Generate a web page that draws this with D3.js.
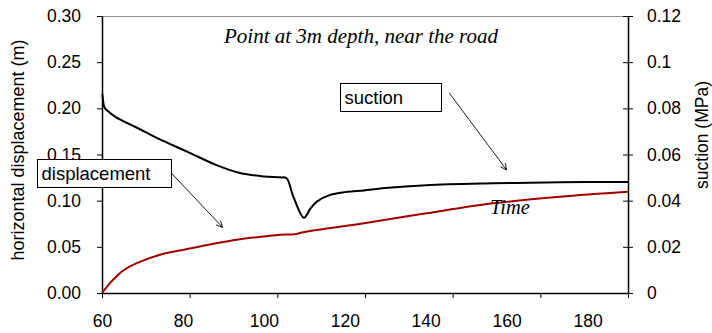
<!DOCTYPE html>
<html>
<head>
<meta charset="utf-8">
<script src="https://cdn.jsdelivr.net/npm/d3@7"></script>
<style>
  body { margin: 0; background: #fff; }
  svg { display: block; }
  text { font-family: "Liberation Sans", Arial, sans-serif; }
</style>
</head>
<body>
<div id="chart"></div>
<script>
'use strict';

// time axis labels and value ticks
const timeLabels = [60, 80, 100, 120, 140, 160, 180];
const leftTicks = [0, 0.05, 0.10, 0.15, 0.20, 0.25, 0.30];
const rightTicks = [0, 0.02, 0.04, 0.06, 0.08, 0.1, 0.12];

// suction (MPa, right axis)
const suctionTime = [60.1, 60.3, 60.6, 61.8, 63.3, 65.1, 68.4, 73.3, 77.5, 81.7, 88.3, 94.1, 100, 104, 105.6,
    107.3, 109.9, 111.5, 113.1, 116.4, 120, 123.8, 130, 140.2, 156.7, 173.2, 190];
const suctionValues = [0.0862, 0.0830, 0.0804, 0.0783, 0.0763, 0.0746, 0.0718, 0.0674, 0.0640, 0.0607, 0.0554, 0.0520, 0.0505, 0.0501, 0.0497,
    0.0417, 0.0326, 0.0365, 0.0396, 0.0425, 0.0437, 0.0443, 0.0455, 0.0467, 0.0475, 0.0480, 0.0481];

// horizontal displacement (m, left axis)
const dispTime = [60, 61, 62, 63.5, 65, 66.8, 70.1, 75, 80.8, 87, 94.1, 100, 104, 107.5, 110, 124, 140.2, 156.7, 173.2, 190];
const dispValues = [0, 0.0055, 0.011, 0.0177, 0.0235, 0.0285, 0.035, 0.0422, 0.0473, 0.0528, 0.0582, 0.0612, 0.0632, 0.0636, 0.0660,
    0.0750, 0.0863, 0.0971, 0.1043, 0.1097];

const settings = { width: 712, height: 333 };
const plot = { left: 102, right: 628, top: 16, bottom: 293 };
const sans = '"Liberation Sans", Arial, sans-serif';
const serif = '"Liberation Serif", "Times New Roman", serif';

const svg = d3.select('#chart')
    .append('svg')
    .attr('width', settings.width)
    .attr('height', settings.height);

const x = d3.scaleLinear().domain([60, 190]).range([plot.left, plot.right]);
const yL = d3.scaleLinear().domain([0, 0.30]).range([plot.bottom, plot.top]);
const yR = d3.scaleLinear().domain([0, 0.12]).range([plot.bottom, plot.top]);

// top border
svg.append('line')
    .attr('x1', plot.left).attr('x2', plot.right)
    .attr('y1', plot.top + 0.5).attr('y2', plot.top + 0.5)
    .attr('stroke', '#8c8c8c').attr('stroke-width', 1.2);

// bottom axis: tick marks split the axis into six equal parts, labels every 20
const tickPos = d3.range(7).map(i => 60 + i * 130 / 6);
svg.append('g')
    .attr('transform', `translate(0,${plot.bottom})`)
    .call(d3.axisBottom(x).tickValues(tickPos).tickSize(5).tickSizeOuter(0).tickFormat(''))
    .call(g => g.select('.domain').attr('stroke-width', 1.5));

svg.append('g')
    .attr('transform', `translate(0,${plot.bottom})`)
    .call(d3.axisBottom(x).tickValues(timeLabels).tickSize(0).tickPadding(22))
    .call(g => g.select('.domain').remove())
    .call(g => g.selectAll('text').attr('font-size', 17.5).attr('fill', '#000').style('font-family', sans));

// left axis
svg.append('g')
    .attr('transform', `translate(${plot.left},0)`)
    .call(d3.axisLeft(yL).tickValues(leftTicks).tickSize(5).tickSizeOuter(0).tickPadding(16)
        .tickFormat(d3.format('.2f')))
    .call(g => g.select('.domain').attr('stroke-width', 1.5))
    .call(g => g.selectAll('text').attr('font-size', 17.5).attr('fill', '#000').style('font-family', sans));

// right axis, ticks cross the line
svg.append('g')
    .attr('transform', `translate(${plot.right},0)`)
    .call(d3.axisRight(yR).tickValues(rightTicks).tickSize(5).tickSizeOuter(0).tickPadding(14)
        .tickFormat(d => String(+d.toFixed(2))))
    .call(g => g.select('.domain').attr('stroke-width', 1.5))
    .call(g => g.selectAll('.tick line').attr('x1', -5))
    .call(g => g.selectAll('text').attr('font-size', 17.5).attr('fill', '#000').style('font-family', sans));

// axis titles
svg.append('text')
    .attr('transform', 'translate(24,150) rotate(-90)')
    .attr('text-anchor', 'middle')
    .attr('font-size', 18)
    .text('horizontal displacement (m)');

svg.append('text')
    .attr('transform', 'translate(708,135) rotate(-90)')
    .attr('text-anchor', 'middle')
    .attr('font-size', 17.5)
    .text('suction (MPa)');

// lines
const line = d3.line().curve(d3.curveCatmullRom.alpha(0.5));

svg.append('path')
    .attr('d', line(suctionTime.map((t, i) => [x(t), yR(suctionValues[i])])))
    .attr('fill', 'none')
    .attr('stroke', '#000')
    .attr('stroke-width', 2);

svg.append('path')
    .attr('d', line(dispTime.map((t, i) => [x(t), yL(dispValues[i])])))
    .attr('fill', 'none')
    .attr('stroke', '#a00000')
    .attr('stroke-width', 2);

// title and 'Time' note
svg.append('text')
    .attr('x', 224).attr('y', 43)
    .attr('font-size', 21)
    .attr('font-style', 'italic')
    .style('font-family', serif)
    .text('Point at 3m depth, near the road');

svg.append('text')
    .attr('x', 490).attr('y', 214)
    .attr('font-size', 20.5)
    .attr('font-style', 'italic')
    .style('font-family', serif)
    .text('Time');

// label boxes
function labelBox(bx, by, bw, bh, label) {
    svg.append('rect')
        .attr('x', bx + 0.5).attr('y', by + 0.5)
        .attr('width', bw).attr('height', bh)
        .attr('fill', '#fff')
        .attr('stroke', '#000')
        .attr('stroke-width', 1);
    svg.append('text')
        .attr('x', bx + 4.5).attr('y', by + 20.5)
        .attr('font-size', 18.5)
        .text(label);
}
labelBox(340, 83, 101, 28, 'suction');
labelBox(37, 159, 134, 28, 'displacement');

// arrows, ends in data units
function arrow(x1, y1, x2, y2) {
    const ang = Math.atan2(y2 - y1, x2 - x1);
    const len = 7, spread = 0.45;
    svg.append('line')
        .attr('x1', x1).attr('y1', y1).attr('x2', x2).attr('y2', y2)
        .attr('stroke', '#000').attr('stroke-width', 0.9);
    svg.append('path')
        .attr('d', `M${x2 - len * Math.cos(ang - spread)},${y2 - len * Math.sin(ang - spread)}L${x2},${y2}L${x2 - len * Math.cos(ang + spread)},${y2 - len * Math.sin(ang + spread)}`)
        .attr('fill', 'none').attr('stroke', '#000').attr('stroke-width', 0.9);
}
arrow(x(145.8), yR(0.0867), x(160.0), yR(0.0533));
arrow(x(77.2), yL(0.1296), x(89.8), yL(0.0711));
</script>
</body>
</html>
